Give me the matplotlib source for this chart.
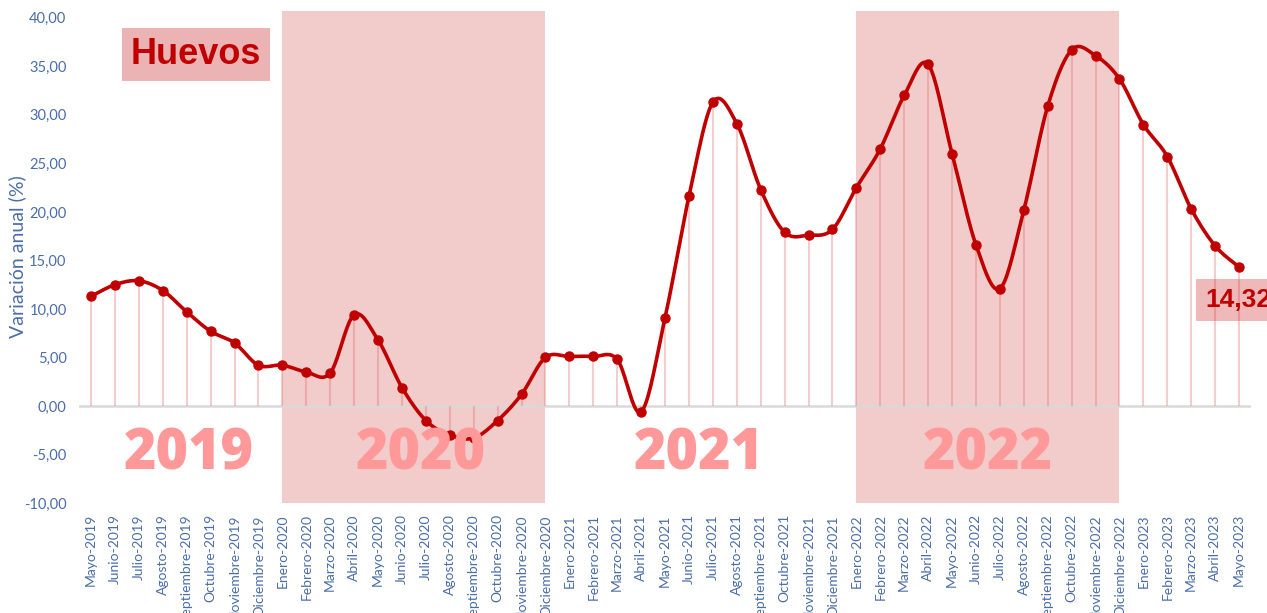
import numpy as np
import matplotlib
matplotlib.use("Agg")
import matplotlib.pyplot as plt
from matplotlib.ticker import FuncFormatter

months = ["Mayo-2019", "Junio-2019", "Julio-2019", "Agosto-2019", "Septiembre-2019",
          "Octubre-2019", "Noviembre-2019", "Diciembre-2019",
          "Enero-2020", "Febrero-2020", "Marzo-2020", "Abril-2020", "Mayo-2020",
          "Junio-2020", "Julio-2020", "Agosto-2020", "Septiembre-2020", "Octubre-2020",
          "Noviembre-2020", "Diciembre-2020",
          "Enero-2021", "Febrero-2021", "Marzo-2021", "Abril-2021", "Mayo-2021",
          "Junio-2021", "Julio-2021", "Agosto-2021", "Septiembre-2021", "Octubre-2021",
          "Noviembre-2021", "Diciembre-2021",
          "Enero-2022", "Febrero-2022", "Marzo-2022", "Abril-2022", "Mayo-2022",
          "Junio-2022", "Julio-2022", "Agosto-2022", "Septiembre-2022", "Octubre-2022",
          "Noviembre-2022", "Diciembre-2022",
          "Enero-2023", "Febrero-2023", "Marzo-2023", "Abril-2023", "Mayo-2023"]

variacion = [11.3, 12.5, 12.9, 11.9, 9.7, 7.7, 6.5, 4.2,
             4.2, 3.5, 3.4, 9.4, 6.8, 1.9, -1.5, -3.0, -3.3, -1.5, 1.2, 5.0,
             5.1, 5.1, 4.8, -0.6, 9.1, 21.6, 31.3, 29.1, 22.3, 17.9, 17.6, 18.2,
             22.5, 26.5, 32.0, 35.2, 26.0, 16.6, 12.1, 20.2, 30.9, 36.7, 36.1, 33.7,
             29.0, 25.7, 20.3, 16.5, 14.32]

# shaded years (first and last month index) and year labels
shaded_years = [(8, 19), (32, 43)]
year_labels = ["2019", "2020", "2021", "2022"]
year_label_x = [4.1, 13.8, 25.4, 37.5]

RED = "#C00000"
BLUE = "#4A6EA9"

x = np.arange(len(variacion))
y = np.array(variacion)


def smooth(xs, ys, n=20):
    # Catmull-Rom curve through the points, like a smoothed line in Excel
    px = np.concatenate([[xs[0]], xs, [xs[-1]]])
    py = np.concatenate([[ys[0]], ys, [ys[-1]]])
    out_x, out_y = [], []
    t = np.linspace(0, 1, n, endpoint=False)
    for i in range(1, len(px) - 2):
        p0, p1, p2, p3 = py[i - 1], py[i], py[i + 1], py[i + 2]
        q0, q1, q2, q3 = px[i - 1], px[i], px[i + 1], px[i + 2]
        for a, b, c, d, lst in ((q0, q1, q2, q3, out_x), (p0, p1, p2, p3, out_y)):
            lst.extend(0.5 * (2 * b + (-a + c) * t + (2 * a - 5 * b + 4 * c - d) * t ** 2
                              + (-a + 3 * b - 3 * c + d) * t ** 3))
    out_x.append(xs[-1])
    out_y.append(ys[-1])
    return np.array(out_x), np.array(out_y)


fig = plt.figure(figsize=(12.67, 6.13), dpi=100)
ax = fig.add_axes([0.0624, 0.1794, 0.925, 0.8026])

for a, b in shaded_years:
    ax.axvspan(a, b, color="#F2CBCB", zorder=0, lw=0)

ax.axhline(0, color="#D9D9D9", lw=1.8, zorder=1)
ax.vlines(x, 0, y, color="#E07070", alpha=0.35, lw=1.5, zorder=2)

sx, sy = smooth(x.astype(float), y)
ax.plot(sx, sy, color=RED, lw=2.6, zorder=3, solid_capstyle="round")
ax.plot(x, y, "o", color=RED, ms=6.5, zorder=4)

for lab, lx in zip(year_labels, year_label_x):
    ax.text(lx, -5.1, lab, fontsize=40, fontweight="heavy", family="Open Sans",
            color="#FF9999", ha="center", va="center", zorder=5)

ax.text(0.0998, 0.911, "Huevos", transform=ax.transAxes, fontsize=26,
        fontweight="bold", family="Liberation Sans", color=RED,
        ha="center", va="center",
        bbox=dict(boxstyle="square,pad=0.25", fc="#EBB3B3", ec="none"))

ax.text(46.6, 10.9, "14,32", fontsize=19, fontweight="bold",
        family="Liberation Sans", color=RED, ha="left", va="center", clip_on=False,
        bbox=dict(boxstyle="square,pad=0.35", fc=(0.8, 0.1, 0.1, 0.3), ec="none"),
        zorder=6)

ax.set_xlim(-0.5, 48.5)
ax.set_ylim(-10, 40.7)
ax.set_yticks(np.arange(-10, 41, 5))
ax.yaxis.set_major_formatter(FuncFormatter(lambda v, p: f"{v:.2f}".replace(".", ",")))
ax.set_xticks(x)
ax.set_xticklabels(months, rotation=90, ha="center", va="top")
ax.tick_params(axis="both", length=0, colors=BLUE, labelsize=10)
ax.tick_params(axis="x", pad=8)
ax.tick_params(axis="y", pad=9, labelsize=10.5)
for lbl in ax.get_xticklabels() + ax.get_yticklabels():
    lbl.set_family("Lato")
ax.set_ylabel("Variación anual (%)", color=BLUE, fontsize=14, family="Lato")
ax.yaxis.set_label_coords(-0.045, 0.5)
for s in ax.spines.values():
    s.set_visible(False)

fig.savefig("out.png", dpi=100)
